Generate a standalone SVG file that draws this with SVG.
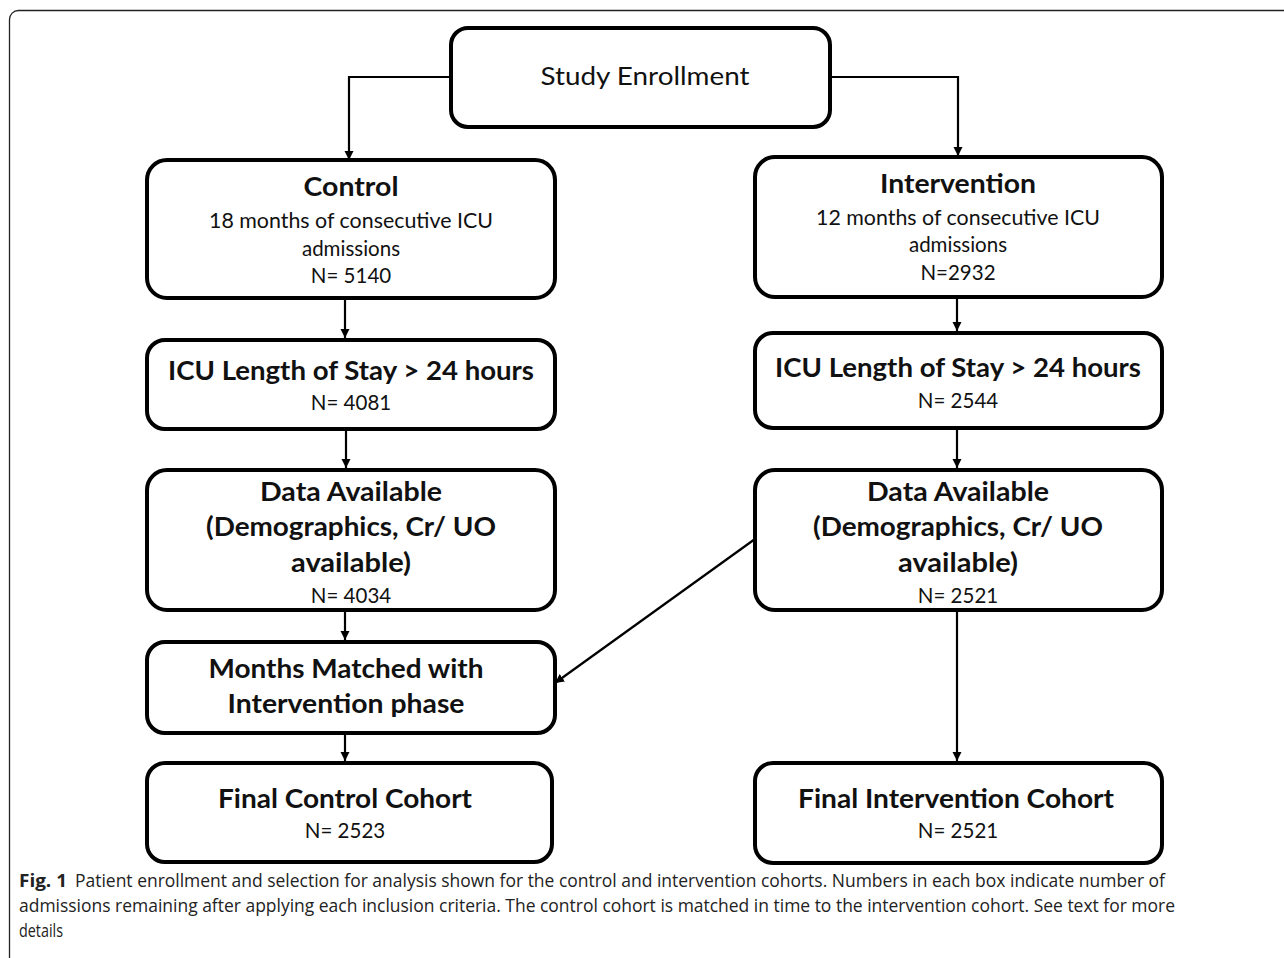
<svg xmlns="http://www.w3.org/2000/svg" width="1284" height="958" viewBox="0 0 1284 958">
<style>
.box{fill:#fff;stroke:#000;stroke-width:4}
.t{font-family:Lato,"Open Sans","Liberation Sans",sans-serif;fill:#111;text-anchor:middle}
.b{font-weight:700;font-size:26.5px}
.r{font-weight:400;font-size:20.5px}
.c{stroke:#000;stroke-width:2.2;fill:none}
.cap{font-family:"Open Sans","Liberation Sans",sans-serif;fill:#222;font-size:18.5px}
</style>
<defs>
<marker id="ah" markerUnits="userSpaceOnUse" markerWidth="10" markerHeight="10" refX="9" refY="5" orient="auto">
<path d="M0,0.5 L9,5 L0,9.5 Z" fill="#000"/>
</marker>
</defs>
<rect x="9.5" y="10.5" width="1300" height="960" rx="9" fill="#fff" stroke="#222" stroke-width="1.3"/>

<g id="connectors">
<polyline class="c" points="451,77 349,77 349,160" marker-end="url(#ah)"/>
<polyline class="c" points="830,77 958,77 958,156" marker-end="url(#ah)"/>
<line class="c" x1="345" y1="298" x2="345" y2="338" marker-end="url(#ah)"/>
<line class="c" x1="957" y1="297" x2="957" y2="331" marker-end="url(#ah)"/>
<line class="c" x1="346" y1="429" x2="346" y2="468" marker-end="url(#ah)"/>
<line class="c" x1="957" y1="428" x2="957" y2="468" marker-end="url(#ah)"/>
<line class="c" x1="345" y1="610" x2="345" y2="640" marker-end="url(#ah)"/>
<line class="c" x1="345" y1="733" x2="345" y2="761" marker-end="url(#ah)"/>
<line class="c" x1="957" y1="610" x2="957" y2="761" marker-end="url(#ah)"/>
<line class="c" x1="755" y1="539" x2="555" y2="683" marker-end="url(#ah)"/>
</g>

<g id="study-enrollment">
<rect class="box" x="451" y="28" width="379" height="99" rx="17"/>
<text class="t" x="645" y="85" style="font-size:25px" textLength="209" lengthAdjust="spacingAndGlyphs">Study Enrollment</text>
</g>

<g id="control">
<rect class="box" x="147" y="160" width="408" height="138" rx="20"/>
<text class="t b" x="351" y="196" textLength="95" lengthAdjust="spacingAndGlyphs">Control</text>
<text class="t r" x="351" y="228" textLength="284" lengthAdjust="spacingAndGlyphs">18 months of consecutive ICU</text>
<text class="t r" x="351" y="256">admissions</text>
<text class="t r" x="351" y="283">N= 5140</text>
</g>

<g id="intervention">
<rect class="box" x="755" y="157" width="407" height="140" rx="20"/>
<text class="t b" x="958" y="193" textLength="156" lengthAdjust="spacingAndGlyphs">Intervention</text>
<text class="t r" x="958" y="225" textLength="284" lengthAdjust="spacingAndGlyphs">12 months of consecutive ICU</text>
<text class="t r" x="958" y="252">admissions</text>
<text class="t r" x="958" y="280">N=2932</text>
</g>

<g id="control-icu">
<rect class="box" x="147" y="340" width="408" height="89" rx="18"/>
<text class="t b" x="351" y="380" textLength="366" lengthAdjust="spacingAndGlyphs">ICU Length of Stay &gt; 24 hours</text>
<text class="t r" x="351" y="410">N= 4081</text>
</g>

<g id="intervention-icu">
<rect class="box" x="755" y="333" width="407" height="95" rx="18"/>
<text class="t b" x="958" y="377" textLength="366" lengthAdjust="spacingAndGlyphs">ICU Length of Stay &gt; 24 hours</text>
<text class="t r" x="958" y="408">N= 2544</text>
</g>

<g id="control-data">
<rect class="box" x="147" y="470" width="408" height="140" rx="20"/>
<text class="t b" x="351" y="501" textLength="182" lengthAdjust="spacingAndGlyphs">Data Available</text>
<text class="t b" x="351" y="536" textLength="290" lengthAdjust="spacingAndGlyphs">(Demographics, Cr/ UO</text>
<text class="t b" x="351" y="572" textLength="120" lengthAdjust="spacingAndGlyphs">available)</text>
<text class="t r" x="351" y="603">N= 4034</text>
</g>

<g id="intervention-data">
<rect class="box" x="755" y="470" width="407" height="140" rx="20"/>
<text class="t b" x="958" y="501" textLength="182" lengthAdjust="spacingAndGlyphs">Data Available</text>
<text class="t b" x="958" y="536" textLength="290" lengthAdjust="spacingAndGlyphs">(Demographics, Cr/ UO</text>
<text class="t b" x="958" y="572" textLength="120" lengthAdjust="spacingAndGlyphs">available)</text>
<text class="t r" x="958" y="603">N= 2521</text>
</g>

<g id="months-matched">
<rect class="box" x="147" y="642" width="408" height="91" rx="18"/>
<text class="t b" x="346" y="678" textLength="275" lengthAdjust="spacingAndGlyphs">Months Matched with</text>
<text class="t b" x="346" y="713" textLength="237" lengthAdjust="spacingAndGlyphs">Intervention phase</text>
</g>

<g id="final-control">
<rect class="box" x="147" y="763" width="405" height="99" rx="18"/>
<text class="t b" x="345" y="808" textLength="254" lengthAdjust="spacingAndGlyphs">Final Control Cohort</text>
<text class="t r" x="345" y="838">N= 2523</text>
</g>

<g id="final-intervention">
<rect class="box" x="755" y="763" width="407" height="100" rx="18"/>
<text class="t b" x="956" y="808" textLength="316" lengthAdjust="spacingAndGlyphs">Final Intervention Cohort</text>
<text class="t r" x="958" y="838">N= 2521</text>
</g>

<g id="caption">
<text class="cap" x="19" y="887" font-weight="700" textLength="48" lengthAdjust="spacingAndGlyphs">Fig. 1</text>
<text class="cap" x="75" y="887" textLength="1090" lengthAdjust="spacingAndGlyphs">Patient enrollment and selection for analysis shown for the control and intervention cohorts. Numbers in each box indicate number of</text>
<text class="cap" x="19" y="912" textLength="1156" lengthAdjust="spacingAndGlyphs">admissions remaining after applying each inclusion criteria. The control cohort is matched in time to the intervention cohort. See text for more</text>
<text class="cap" x="19" y="937" textLength="44" lengthAdjust="spacingAndGlyphs">details</text>
</g>
</svg>
